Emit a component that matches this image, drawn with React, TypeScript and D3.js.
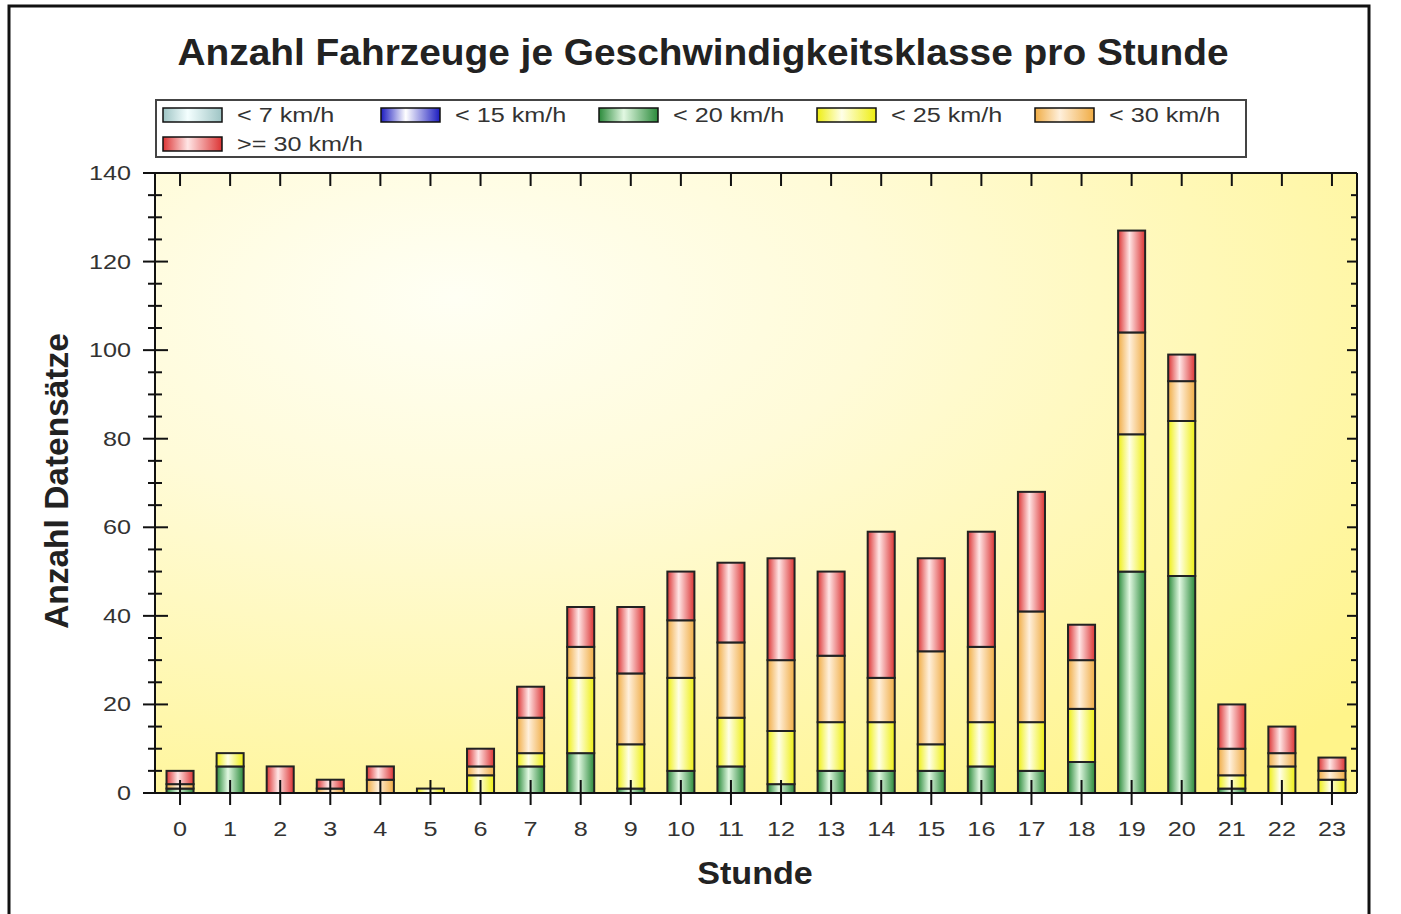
import React from "react";
import * as d3 from "d3";

const hours = ["0","1","2","3","4","5","6","7","8","9","10","11","12","13","14","15","16","17","18","19","20","21","22","23"];
const lt7 =   [0,0,0,0,0,0,0,0,0,0,0,0,0,0,0,0,0,0,0,0,0,0,0,0];
const lt15 =  [0,0,0,0,0,0,0,0,0,0,0,0,0,0,0,0,0,0,0,0,0,0,0,0];
const lt20 =  [1,6,0,0,0,0,0,6,9,1,5,6,2,5,5,5,6,5,7,50,49,1,0,0];
const lt25 =  [0,3,0,0,0,1,4,3,17,10,21,11,12,11,11,6,10,11,12,31,35,3,6,3];
const lt30 =  [1,0,0,1,3,0,2,8,7,16,13,17,16,15,10,21,17,25,11,23,9,6,3,2];
const ge30 =  [3,0,6,2,3,0,4,7,9,15,11,18,23,19,33,21,26,27,8,23,6,10,6,3];

const seriesNames = ["< 7 km/h", "< 15 km/h", "< 20 km/h", "< 25 km/h", "< 30 km/h", ">= 30 km/h"];
const seriesData = [lt7, lt15, lt20, lt25, lt30, ge30];
const seriesDark = ["#9ec4c4", "#1c1cc0", "#2a8a3a", "#eeee10", "#f0ac44", "#dc3434"];
const seriesLight = ["#f4ffff", "#ffffff", "#e2f8e2", "#ffffe8", "#fff0dc", "#ffe6e6"];
const yTicks = [0, 20, 40, 60, 80, 100, 120, 140];

const title = "Anzahl Fahrzeuge je Geschwindigkeitsklasse pro Stunde";
const xTitle = "Stunde";
const yTitle = "Anzahl Datensätze";

export default function App() {
  const W = 1401, H = 914;
  const left = 155, right = 1357, top = 173, bottom = 793;
  const x = d3.scaleBand<string>().domain(hours).range([left, right]).padding(0);
  const y = d3.scaleLinear().domain([0, 140]).range([bottom, top]);
  const bw = x.bandwidth() * 0.54;

  const rows = hours.map((h, i) => {
    const r: any = { hour: h };
    seriesNames.forEach((n, k) => (r[n] = seriesData[k][i]));
    return r;
  });
  const stack = d3.stack<any>().keys(seriesNames)(rows);
  const minor = d3.range(0, 141, 5);
  const font = "'Liberation Sans', Arial, sans-serif";

  return (
    <svg width={W} height={H} style={{ position: "absolute", left: 0, top: 0, background: "#fff" }}>
      <defs>
        {seriesNames.map((n, k) => (
          <linearGradient key={k} id={`g${k}`} x1="0" y1="0" x2="1" y2="0">
            <stop offset="0%" stopColor={seriesDark[k]} />
            <stop offset="42%" stopColor={seriesLight[k]} />
            <stop offset="100%" stopColor={seriesDark[k]} />
          </linearGradient>
        ))}
        <radialGradient id="bg" cx="0.25" cy="0.2" r="1.0" gradientUnits="objectBoundingBox">
          <stop offset="0%" stopColor="#fffff4" />
          <stop offset="35%" stopColor="#fffbd8" />
          <stop offset="100%" stopColor="#fff48a" />
        </radialGradient>
      </defs>
      <rect x={9} y={6} width={1360} height={920} fill="none" stroke="#111" strokeWidth={3} />
      <text transform="translate(703,65) scale(1.05,1)" textAnchor="middle" fontFamily={font} fontWeight="bold" fontSize={37} fill="#222">{title}</text>

      {/* legend */}
      <rect x={156} y={100} width={1090} height={57} fill="#fff" stroke="#444" strokeWidth={2} />
      {seriesNames.map((n, k) => {
        const col = k % 5, row = Math.floor(k / 5);
        const lx = 163 + col * 218, ly = 108 + row * 29;
        return (
          <g key={k}>
            <rect x={lx} y={ly} width={59} height={14} fill={`url(#g${k})`} stroke="#111" strokeWidth={1.5} />
            <text transform={`translate(${lx + 74},${ly + 14}) scale(1.2,1)`} fontFamily={font} fontSize={21} fill="#333">{n}</text>
          </g>
        );
      })}

      {/* plot background */}
      <rect x={left} y={top} width={right - left} height={bottom - top} fill="url(#bg)" />

      {/* bars */}
      {stack.map((s, k) => (
        <g key={k}>
          {s.map((d, i) =>
            d[1] - d[0] > 0 ? (
              <rect key={i} x={(x(hours[i]) as number) + (x.bandwidth() - bw) / 2} y={y(d[1])} width={bw}
                height={y(d[0]) - y(d[1])} fill={`url(#g${k})`} stroke="#222" strokeWidth={2} />
            ) : null
          )}
        </g>
      ))}

      {/* axes */}
      <line x1={left} y1={top} x2={right} y2={top} stroke="#111" strokeWidth={2} />
      <line x1={right} y1={top} x2={right} y2={bottom} stroke="#111" strokeWidth={2} />
      <line x1={left} y1={top} x2={left} y2={bottom} stroke="#111" strokeWidth={2} />
      <line x1={left} y1={bottom} x2={right} y2={bottom} stroke="#111" strokeWidth={2} />
      {minor.map((v) => {
        const major = v % 20 === 0;
        return (
          <g key={v}>
            <line x1={left - (major ? 12 : 7)} x2={left + (major ? 13 : 7)} y1={y(v)} y2={y(v)} stroke="#111" strokeWidth={2} />
            <line x1={right - (major ? 10 : 6)} x2={right} y1={y(v)} y2={y(v)} stroke="#111" strokeWidth={2} />
          </g>
        );
      })}
      {yTicks.map((v) => (
        <text key={v} transform={`translate(131,${y(v) + 7}) scale(1.2,1)`} textAnchor="end" fontFamily={font} fontSize={21} fill="#333">{v}</text>
      ))}
      {hours.map((h) => {
        const cx = (x(h) as number) + x.bandwidth() / 2;
        return (
          <g key={h}>
            <line x1={cx} x2={cx} y1={bottom - 13} y2={bottom + 12} stroke="#111" strokeWidth={2} />
            <line x1={cx} x2={cx} y1={top} y2={top + 13} stroke="#111" strokeWidth={2} />
            <text transform={`translate(${cx},836) scale(1.2,1)`} textAnchor="middle" fontFamily={font} fontSize={21} fill="#333">{h}</text>
          </g>
        );
      })}
      <text transform="translate(755,884) scale(1.1,1)" textAnchor="middle" fontFamily={font} fontWeight="bold" fontSize={31} fill="#222">{xTitle}</text>
      <text transform={`translate(68,481) rotate(-90) scale(1.08,1.1)`} textAnchor="middle" fontFamily={font} fontWeight="bold" fontSize={31} fill="#222">{yTitle}</text>
    </svg>
  );
}
